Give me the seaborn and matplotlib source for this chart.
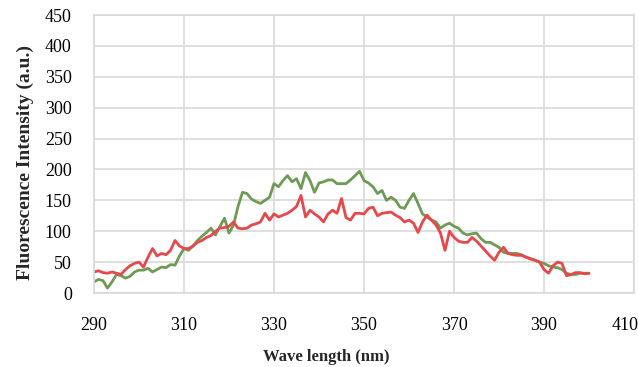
import numpy as np
import pandas as pd
import matplotlib
matplotlib.use("Agg")
import matplotlib.pyplot as plt
import matplotlib.transforms as mtransforms
import seaborn as sns

# ==============================================================================
# Data (1 nm steps)
# ==============================================================================

wavelength = list(range(290, 401))

red_intensity = [
    34, 36, 33, 32, 34, 32, 30, 38, 44, 48,      # 290-299
    50, 42, 58, 72, 60, 64, 62, 69, 85, 76,      # 300-309
    72, 72, 76, 82, 85, 90, 93, 100, 105, 106,   # 310-319
    108, 115, 105, 104, 105, 110, 112, 115, 129, 118,  # 320-329
    128, 123, 126, 129, 134, 140, 158, 123, 134, 128,  # 330-339
    123, 115, 128, 134, 129, 153, 122, 118, 129, 129,  # 340-349
    128, 137, 139, 125, 129, 130, 131, 126, 122, 115,  # 350-359
    118, 113, 98, 115, 126, 118, 110, 97, 69, 100,     # 360-369
    90, 84, 82, 82, 90, 84, 76, 68, 60, 53,      # 370-379
    66, 74, 64, 62, 61, 61, 58, 55, 53, 50,      # 380-389
    38, 32, 44, 50, 48, 28, 30, 33, 33, 31,      # 390-399
    32,                                          # 400
]

green_intensity = [
    18, 22, 20, 8, 18, 30, 28, 24, 27, 34,       # 290-299
    37, 37, 40, 34, 38, 42, 41, 46, 45, 60,      # 300-309
    72, 69, 76, 85, 92, 98, 105, 94, 108, 121,   # 310-319
    97, 110, 140, 163, 161, 152, 148, 145, 150, 155,   # 320-329
    177, 172, 182, 190, 180, 185, 169, 195, 182, 163,  # 330-339
    178, 180, 183, 183, 177, 177, 177, 183, 190, 197,  # 340-349
    182, 178, 172, 161, 166, 150, 155, 150, 139, 137,  # 350-359
    150, 161, 145, 128, 123, 118, 115, 105, 110, 113,  # 360-369
    108, 105, 97, 94, 96, 97, 88, 82, 82, 78,    # 370-379
    74, 66, 64, 64, 64, 62, 58, 56, 53, 50,      # 380-389
    48, 44, 42, 41, 38, 32, 30, 30, 32, 32,      # 390-399
    32,                                          # 400
]

x_ticks = [290, 310, 330, 350, 370, 390, 410]
y_ticks = [0, 50, 100, 150, 200, 250, 300, 350, 400, 450]

RED = "#e8474c"
GREEN = "#6e9a55"
GRID = "#d9d9d9"

# ==============================================================================
# Plot
# ==============================================================================

df = pd.DataFrame({
    "wavelength": wavelength * 2,
    "intensity": red_intensity + green_intensity,
    "series": ["red"] * len(wavelength) + ["green"] * len(wavelength),
})

sns.set_theme(style="whitegrid")
plt.rcParams["font.family"] = ["Liberation Serif", "DejaVu Serif"]

fig = plt.figure(figsize=(6.38, 3.67), dpi=100)
ax = fig.add_axes([94 / 638, 74 / 367, 540 / 638, 278 / 367])

sns.lineplot(
    data=df, x="wavelength", y="intensity", hue="series",
    palette={"red": RED, "green": GREEN}, hue_order=["green", "red"],
    linewidth=2.0, legend=False, ax=ax,
)

ax.set_xlim(290, 410)
ax.set_ylim(0, 450)
ax.set_xticks(x_ticks)
ax.set_yticks(y_ticks)
ax.tick_params(axis="both", labelsize=13, colors="black", length=0)
ax.tick_params(axis="x", pad=17)
ax.tick_params(axis="y", pad=16)

# last x label sits inside the figure edge, as in the source chart
last = ax.get_xticklabels()[-1]
last.set_transform(last.get_transform() + mtransforms.ScaledTranslation(-9 / 100, 0, fig.dpi_scale_trans))

ax.grid(True, color=GRID, linewidth=1.2)
ax.set_facecolor("white")
for side in ax.spines.values():
    side.set_visible(True)
    side.set_color(GRID)
    side.set_linewidth(1.2)

ax.set_xlabel("Wave length (nm)", fontsize=12, fontweight="bold")
ax.xaxis.set_label_coords(0.43, -0.2)
ax.set_ylabel("Fluorescence Intensity (a.u.)", fontsize=14, fontweight="bold")
ax.yaxis.set_label_coords(-0.112, 0.47)

fig.savefig("out.png", dpi=100, facecolor="white")
